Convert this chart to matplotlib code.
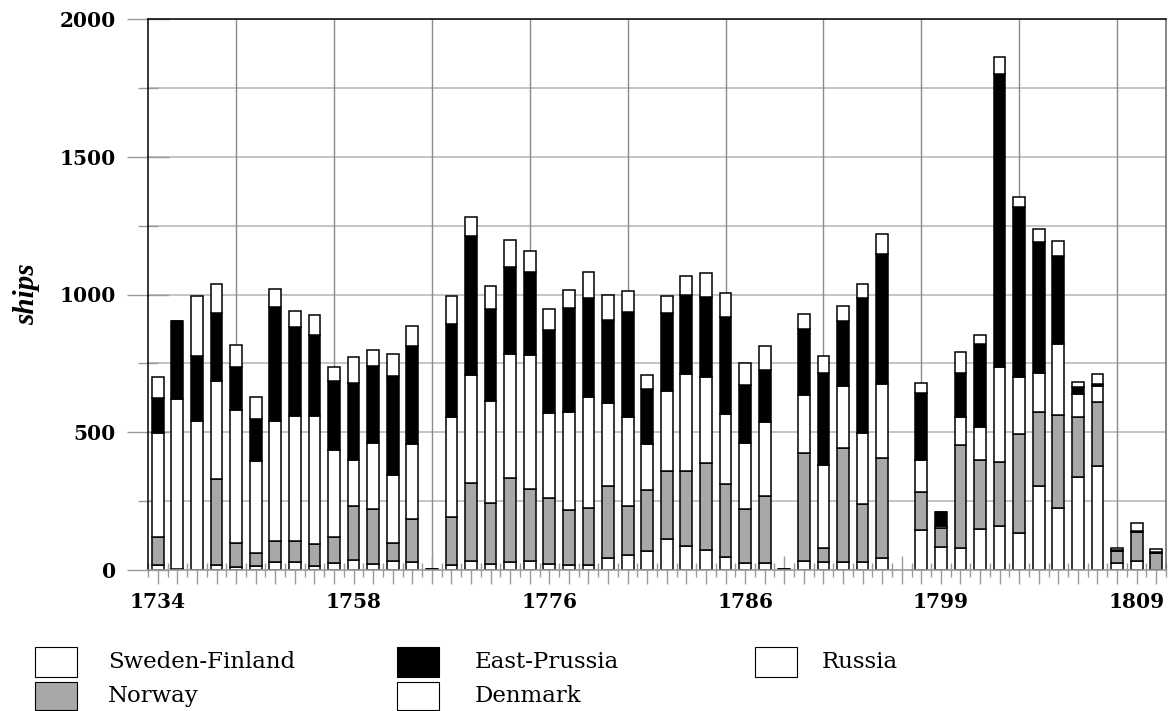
import numpy as np
import matplotlib
matplotlib.use("Agg")
import matplotlib.pyplot as plt
from matplotlib.patches import Rectangle

nan = np.nan

# ---- data (ships per year slot; slot 38 has no data) ----
slot_labels = ['1734', '', '', '', '', '', '', '', '', '',
               '1758', '', '', '', '', '', '', '', '', '',
               '1776', '', '', '', '', '', '', '', '', '',
               '1786', '', '', '', '', '', '', '', '', '',
               '1799', '', '', '', '', '', '', '', '', '',
               '1809', '']

sweden_finland = [19, 0, 0, 19, 10, 16, 28, 28, 15, 27,
                  38, 22, 34, 28, 0, 19, 34, 22, 30, 34,
                  22, 18, 19, 42, 53, 70, 113, 86, 74, 46,
                  27, 25, 0, 33, 28, 28, 28, 42, nan, 145,
                  85, 80, 150, 159, 136, 306, 224, 337, 376, 27,
                  34, 0]
norway = [100, 3, 0, 311, 88, 47, 76, 76, 79, 93,
          196, 199, 63, 156, 0, 172, 281, 220, 303, 261,
          239, 199, 207, 262, 181, 220, 246, 273, 313, 267,
          196, 245, 0, 390, 51, 414, 210, 365, nan, 137,
          66, 372, 250, 232, 356, 267, 338, 217, 235, 43,
          105, 62]
denmark = [378, 617, 542, 356, 484, 333, 438, 454, 465, 316,
           165, 239, 247, 275, 0, 366, 394, 370, 450, 484,
           310, 356, 402, 302, 320, 166, 290, 354, 315, 252,
           239, 266, 0, 212, 302, 226, 258, 269, nan, 117,
           10, 102, 120, 346, 208, 141, 259, 85, 56, 0,
           0, 0]
east_prussia = [127, 284, 235, 248, 156, 153, 411, 325, 295, 251,
                279, 280, 360, 353, 5, 337, 505, 335, 317, 303,
                301, 377, 361, 303, 383, 202, 285, 285, 289, 354,
                211, 191, 5, 239, 334, 237, 490, 470, nan, 242,
                48, 160, 300, 1062, 619, 475, 319, 24, 9, 4,
                4, 2]
russia = [75, 0, 219, 104, 80, 80, 67, 56, 70, 51,
          95, 57, 81, 75, 0, 99, 67, 84, 97, 76,
          76, 68, 91, 90, 75, 48, 60, 69, 87, 86,
          80, 86, 0, 56, 61, 53, 53, 74, nan, 39,
          3, 79, 33, 64, 35, 48, 53, 20, 36, 6,
          28, 11]

series = [
    ("Sweden-Finland", sweden_finland, "white"),
    ("Norway", norway, "#a8a8a8"),
    ("Denmark", denmark, "white"),
    ("East-Prussia", east_prussia, "black"),
    ("Russia", russia, "white"),
]
legend_order = ["Sweden-Finland", "Norway", "East-Prussia", "Denmark", "Russia"]

# ---- figure ----
W, H = 1174, 711
fig = plt.figure(figsize=(W / 100, H / 100), dpi=100)
ax = fig.add_axes([148 / W, 1 - 570 / H, (1166 - 148) / W, (570 - 19) / H])

x = np.arange(len(slot_labels))
bottom = np.zeros(len(x))
for name, vals, color in series:
    v = np.array(vals, dtype=float)
    ax.bar(x, v, width=0.6, bottom=bottom, color=color, edgecolor="black",
           linewidth=1.1, zorder=2)
    bottom = bottom + v

ax.set_xlim(-0.5, len(x) - 0.5)
ax.set_ylim(0, 2000)

# gridlines (behind bars)
for v in np.arange(250, 2001, 250):
    ax.axhline(v, color="#b4b4b4", lw=1.1, zorder=0)
for s in range(4, len(x), 5):
    ax.axvline(s, color="#8c8c8c", lw=1.0, zorder=0)

# ticks
ax.set_xticks(x)
ax.set_xticklabels(slot_labels)
ax.set_xticks(np.arange(-0.5, len(x), 1), minor=True)
ax.set_yticks(np.arange(0, 2001, 500))
ax.set_yticks(np.arange(250, 2000, 500), minor=True)
ax.tick_params(axis="x", which="major", direction="inout", length=20, width=1,
               color="#9a9a9a", pad=6)
ax.tick_params(axis="x", which="minor", direction="inout", length=10, width=1,
               color="#9a9a9a")
ax.tick_params(axis="y", which="major", direction="inout", length=30, width=1,
               color="#9a9a9a", pad=8)
ax.tick_params(axis="y", which="minor", direction="inout", length=14, width=1,
               color="#9a9a9a")
for lab in ax.get_xticklabels() + ax.get_yticklabels():
    lab.set_fontfamily("DejaVu Serif")
    lab.set_fontweight("bold")
    lab.set_fontsize(14.5)

for side in ["left", "top"]:
    ax.spines[side].set_color("black")
    ax.spines[side].set_linewidth(1.1)
ax.spines["right"].set_color("#666666")
ax.spines["right"].set_linewidth(1.1)
ax.spines["bottom"].set_color("#9a9a9a")
ax.spines["bottom"].set_linewidth(1.2)

ax.set_ylabel("ships", fontfamily="Liberation Serif", fontstyle="italic",
              fontweight="bold", fontsize=21)
ax.yaxis.set_label_coords((40 - 148) / (1166 - 148), 0.5)

# ---- legend (manual, below the plot) ----
colors = {n: c for n, _, c in series}
col_box_x = [35, 397, 755]
col_text_x = [108, 475, 822]
rows_y = [(647, 677), (682, 710)]
for i, name in enumerate(legend_order):
    col, row = divmod(i, 2)
    y0, y1 = rows_y[row]
    bx = col_box_x[col]
    fig.add_artist(Rectangle((bx / W, 1 - y1 / H), 42 / W, (y1 - y0) / H,
                             transform=fig.transFigure, facecolor=colors[name],
                             edgecolor="black", linewidth=0.8))
    fig.text(col_text_x[col] / W, 1 - (y0 + y1) / 2 / H, name,
             fontfamily="DejaVu Serif", fontsize=16.5, va="center", ha="left")

fig.savefig("out.png", dpi=100)
